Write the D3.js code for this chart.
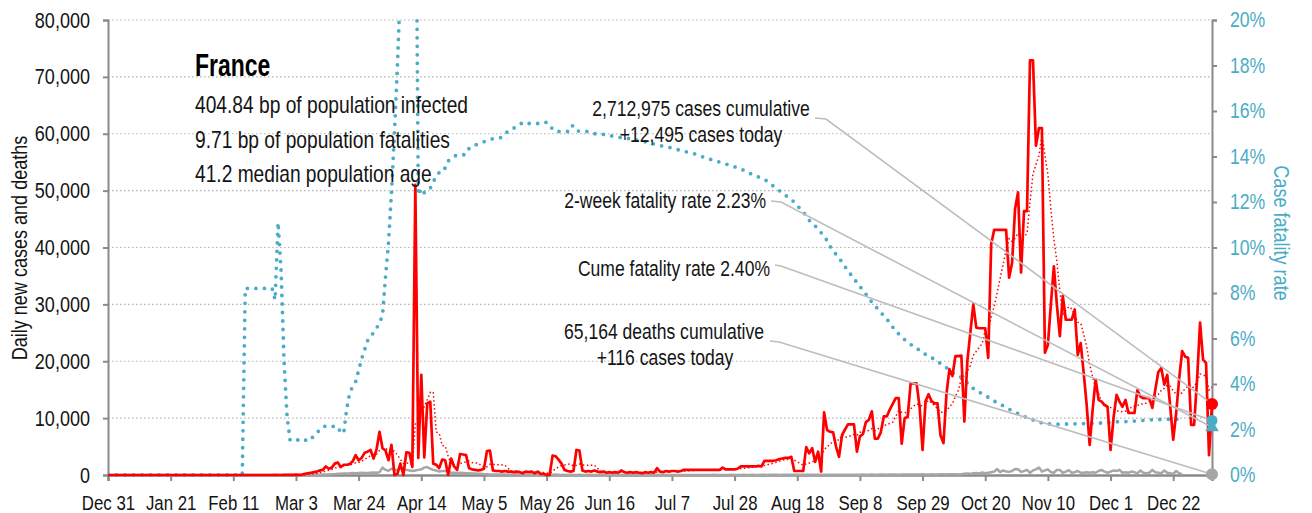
<!DOCTYPE html>
<html><head><meta charset="utf-8">
<script src="https://cdn.jsdelivr.net/npm/d3@7"></script>
<style>
html,body{margin:0;padding:0;background:#fff;}
svg{display:block;}
text{font-family:'Liberation Sans',Arial,sans-serif;}
</style></head>
<body>
<svg id="chart" width="1312" height="513"></svg>
<script>
// ---------------- DATA ----------------
const startDate = "2019-12-31";
const tickLabels = ["Dec 31","Jan 21","Feb 11","Mar 3","Mar 24","Apr 14","May 5","May 26","Jun 16","Jul 7","Jul 28","Aug 18","Sep 8","Sep 29","Oct 20","Nov 10","Dec 1","Dec 22"];
const leftTicks = [0,10000,20000,30000,40000,50000,60000,70000,80000];
const rightTicks = [0,2,4,6,8,10,12,14,16,18,20];

// daily new cases, Dec 31 2019 .. Jan 4 2021 (371 days)
const cases = [
0,0,0,0,0,0,0,0,0,0, 0,0,0,0,0,0,0,0,0,0, 0,0,0,0,0,3,0,0,1,0,
0,1,0,0,0,0,0,0,0,0, 0,0,1,0,0,0,0,0,0,0, 0,0,0,0,0,0,6,2,4,20,
19,43,30,61,21,73,200,300,400,500, 600,800,900,1500,1100,1300,2000,2200,1400,1800,
1800,1900,2400,3500,2600,3000,3900,4100,4400,2900, 4500,7600,4700,4300,2600,5300,0,200,2000,0,
4000,3900,1400,51000,3000,17600,3100,12600,12900,2000, 1800,1200,2700,2600,0,2900,1500,900,3700,3600,
3500,1200,1000,900,800,900,1100,4200,4300,800, 700,700,600,700,600,600,500,600,500,300,
600,500,600,300,600,200,200,0,0,3400, 3300,2700,2000,900,700,600,700,4400,4300,800,
600,700,600,800,600,500,600,400,500,400, 500,400,800,500,400,500,400,500,400,300,
500,400,500,400,1200,600,500,700,600,700, 700,600,700,900,900,900,900,900,900,900,
900,900,900,900,900,900,1300,1000,1000,1000, 1000,1100,1500,1500,1500,1500,1500,1500,1600,1500,
2500,2500,2500,2500,2600,2800,2900,3000,3000,3200, 700,700,700,700,4900,3800,4700,2300,4100,600,
11000,7900,7600,7500,5000,3200,7000,8000,8900,8900, 8900,4100,6800,7200,9300,9700,11200,6400,6400,7500,
10300,10300,11500,12500,13500,13500,5500,10000,10200,16100, 16100,16100,12000,4400,13000,14200,13000,12600,12600,7000,
5600,14200,18600,17400,20900,20900,21000,9400,20000,25000, 30000,25900,25800,25800,25800,20600,40600,43100,43100,43100,
43100,43100,34700,37300,46800,49700,35600,46400,46400,72900, 72900,57900,61000,61000,21500,22900,30000,36700,30000,24400,
31500,27300,27300,27300,29100,21100,23200,17900,12300,5300, 11500,16800,13200,12900,12300,12000,4400,10000,14100,12900,
12000,13200,10900,10900,10900,14900,13800,13500,13500,13500, 11800,15000,18100,18800,15900,17600,12000,6200,10900,17000,
21800,20800,20600,8800,8800,16800,26800,20300,19700,3500, 12495
];

// daily new deaths
const deaths = [
0,0,0,0,0,0,0,0,0,0, 0,0,0,0,0,0,0,0,0,0, 0,0,0,0,0,0,0,0,0,0,
0,0,0,0,0,0,0,0,0,0, 0,0,0,0,0,0,1,0,0,0, 0,0,0,0,0,0,0,1,0,0,
0,0,0,1,2,2,10,20,30,40, 50,60,80,100,90,120,150,200,230,250,
280,300,350,300,350,400,350,350,400,450, 400,500,1300,900,750,1100,900,900,1300,1000,
900,800,700,800,900,1000,1300,1400,1100,900, 800,600,700,700,600,400,400,350,400,350,
300,300,250,250,200,200,150,150,100,100, 80,90,80,70,80,60,80,70,60,50,
60,50,40,50,60,40,50,30,40,50, 80,30,20,30,20,30,10,20,30,20,
20,30,10,20,20,30,20,10,20,20, 30,20,10,20,20,10,20,30,10,20,
20,10,20,20,30,10,20,20,10,20, 20,20,10,20,20,10,20,20,10,20,
20,10,20,30,10,20,20,10,20,30, 20,10,20,30,20,10,30,20,20,30,
30,20,30,40,30,20,40,30,30,40, 40,30,40,50,40,30,50,40,40,50,
50,40,50,60,50,40,60,50,50,60, 60,50,60,70,60,50,80,60,60,80,
80,60,80,90,80,60,90,80,80,90, 90,80,100,110,90,80,120,100,100,120,
130,100,120,140,120,100,150,200,250,200, 300,350,250,450,300,400,500,600,1050,500,
800,600,550,700,1050,1000,550,700,900,400, 800,1000,1300,600,800,1000,500,400,900,900,
400,600,850,400,500,700,400,400,500,400, 500,400,700,900,600,400,600,800,700,900,
400,500,400,600,500,300,800,400,300,400, 900,500,400,300,800,400,300,200,700,300,
116
];

// case fatality rate, percent (right axis)
const cfr = [
0,0,0,0,0,0,0,0,0,0, 0,0,0,0,0,0,0,0,0,0, 0,0,0,0,0,0,0,0,0,0,
0,0,0,0,0,0,0,0,0,0, 0,0,0,0,0,0,8.2,8.2,8.2,8.2, 8.2,8.2,8.2,8.2,8.2,8.2,7.7,11.1,9.0,5.0,
2.6,1.55,1.6,1.6,1.5,1.5,1.55,1.48,1.6,1.7, 1.85,2.0,2.12,2.15,2.17,2.14,2.13,2.13,1.85,1.85,
2.9,3.6,3.9,4.1,4.6,5.1,5.5,5.9,6.1,6.25, 6.45,6.7,7.0,8.7,10.2,12.4,15.0,18.0,21.5,24,
26,27,28,30,12.3,12.6,12.4,12.5,12.6,12.9, 13.1,13.3,13.3,13.5,13.8,13.9,14.0,14.07,14.07,14.07,
14.1,14.35,14.45,14.5,14.55,14.6,14.65,14.7,14.75,14.78, 14.8,14.8,14.85,15.0,15.1,15.2,15.25,15.3,15.4,15.5,
15.45,15.45,15.45,15.45,15.45,15.45,15.5,15.5,15.4,15.2, 15.1,15.1,15.1,15.1,15.1,15.35,15.35,15.15,15.1,15.1,
15.1,15.1,15.05,15.0,15.0,15.0,14.97,14.95,14.93,14.9, 14.88,14.85,14.83,14.8,14.8,14.78,14.75,14.72,14.7,14.68,
14.65,14.6,14.57,14.55,14.52,14.48,14.45,14.42,14.4,14.37, 14.33,14.3,14.27,14.23,14.2,14.17,14.14,14.1,14.05,14.0,
13.95,13.9,13.87,13.83,13.8,13.75,13.72,13.68,13.63,13.58, 13.55,13.5,13.45,13.4,13.33,13.27,13.2,13.15,13.1,13.05,
13.0,12.9,12.8,12.7,12.6,12.5,12.4,12.3,12.2,12.1, 12.0,11.85,11.7,11.55,11.4,11.2,11.05,10.95,10.8,10.65,
10.5,10.3,10.05,9.85,9.7,9.55,9.35,9.15,9.0,8.8, 8.65,8.45,8.3,8.1,7.95,7.75,7.6,7.45,7.3,7.15,
7.0,6.85,6.7,6.5,6.35,6.2,6.05,5.95,5.86,5.75, 5.62,5.55,5.5,5.4,5.3,5.22,5.15,5.1,5.0,4.9,
4.8,4.72,4.6,4.5,4.42,4.35,4.3,4.15,4.05,3.95, 3.8,3.72,3.65,3.55,3.48,3.42,3.35,3.25,3.18,3.1,
3.05,2.98,2.9,2.82,2.77,2.7,2.64,2.58,2.52,2.48, 2.42,2.37,2.32,2.29,2.27,2.25,2.24,2.23,2.23,2.24,
2.24,2.24,2.25,2.25,2.25,2.25,2.26,2.26,2.26,2.27, 2.27,2.28,2.28,2.29,2.3,2.31,2.32,2.33,2.34,2.34,
2.34,2.35,2.35,2.36,2.37,2.38,2.39,2.4,2.41,2.42, 2.43,2.43,2.44,2.44,2.45,2.45,2.45,2.45,2.45,2.45,
2.45
];

const stats = ["404.84 bp of population infected","9.71 bp of population fatalities","41.2 median population age"];
const country = "France";
const casesNote = ["2,712,975 cases cumulative","+12,495 cases today"];
const deathsNote = ["65,164 deaths cumulative","+116 cases today"];
const twoWeekNote = "2-week fatality rate 2.23%";
const cumeNote = "Cume fatality rate 2.40%";
const twoWeekRate = 2.23, cumeRate = 2.40, casesToday = 12495, deathsToday = 116;

// ---------------- CHART ----------------
const svg = d3.select("#chart");
const L = 108, R = 1212, T = 20, B = 475;
const RED = "#ff0000", TEAL = "#4bacc6", GREY = "#a6a6a6", AXIS = "#8a8a8a", LEAD = "#bdbdbd", INK = "#141414";

const t0 = new Date(startDate + "T00:00:00Z");
const dates = cases.map((_, i) => d3.utcDay.offset(t0, i));
const x = d3.scaleUtc().domain([t0, dates[dates.length - 1]]).range([L, R]);
const yL = d3.scaleLinear().domain([0, 80000]).range([B, T]);
const yR = d3.scaleLinear().domain([0, 20]).range([B, T]);

svg.append("defs").append("clipPath").attr("id", "plot")
  .append("rect").attr("x", L).attr("y", T - 3).attr("width", R - L + 8).attr("height", B - T + 6);

// gridlines
svg.append("g").selectAll("line").data(leftTicks.slice(1)).join("line")
  .attr("x1", L).attr("x2", R).attr("y1", d => yL(d)).attr("y2", d => yL(d))
  .attr("stroke", "#b5b5b5").attr("stroke-width", 1.2).attr("stroke-dasharray", "1.6,2.4");

// left axis
const axL = svg.append("g").attr("transform", `translate(${L},0)`)
  .call(d3.axisLeft(yL).tickValues(leftTicks).tickFormat(d3.format(",")).tickSize(5).tickPadding(13));
axL.select(".domain").attr("stroke", AXIS).attr("stroke-width", 2);
axL.selectAll(".tick line").attr("stroke", AXIS).attr("stroke-width", 2);
axL.selectAll("text").attr("font-size", 22).attr("fill", INK).attr("font-family", null);

// right axis
const axR = svg.append("g").attr("transform", `translate(${R},0)`)
  .call(d3.axisRight(yR).tickValues(rightTicks).tickFormat(d => d + "%").tickSize(5).tickPadding(13));
axR.select(".domain").attr("stroke", AXIS).attr("stroke-width", 2);
axR.selectAll(".tick line").attr("stroke", AXIS).attr("stroke-width", 2);
axR.selectAll("text").attr("font-size", 21.5).attr("fill", TEAL).attr("font-family", null);

// bottom axis
const tickDates = tickLabels.map((_, i) => d3.utcDay.offset(t0, i * 21));
const axB = svg.append("g").attr("transform", `translate(0,${B})`)
  .call(d3.axisBottom(x).tickValues(tickDates).tickFormat((d, i) => tickLabels[i]).tickSize(6).tickPadding(14));
axB.select(".domain").attr("stroke", AXIS).attr("stroke-width", 2.5);
axB.selectAll(".tick line").attr("stroke", AXIS).attr("stroke-width", 2);
axB.selectAll("text").attr("font-size", 20.5).attr("fill", INK).attr("font-family", null);

// axis titles
svg.append("text").attr("transform", `translate(27,248) rotate(-90)`).attr("text-anchor", "middle")
  .attr("font-size", 22).attr("fill", INK).text("Daily new cases and deaths");
svg.append("text").attr("transform", `translate(1274,233) rotate(90)`).attr("text-anchor", "middle")
  .attr("font-size", 22).attr("fill", TEAL).text("Case fatality rate");

// series
const g = svg.append("g").attr("clip-path", "url(#plot)");
const avg7 = cases.map((_, i) => d3.mean(cases.slice(Math.max(0, i - 6), i + 1)));

g.append("path").datum(deaths)
  .attr("d", d3.line().x((d, i) => x(dates[i])).y(d => yL(d)))
  .attr("fill", "none").attr("stroke", GREY).attr("stroke-width", 2.5).attr("stroke-linejoin", "round");

g.append("path").datum(cfr)
  .attr("d", d3.line().x((d, i) => x(dates[i])).y(d => yR(d)))
  .attr("fill", "none").attr("stroke", TEAL).attr("stroke-width", 3.8)
  .attr("stroke-linecap", "round").attr("stroke-dasharray", "0,8.5");

g.append("path").datum(avg7)
  .attr("d", d3.line().x((d, i) => x(dates[i])).y(d => yL(d)))
  .attr("fill", "none").attr("stroke", RED).attr("stroke-width", 1.5).attr("stroke-dasharray", "1.5,2.5");

g.append("path").datum(cases)
  .attr("d", d3.line().x((d, i) => x(dates[i])).y(d => yL(d)))
  .attr("fill", "none").attr("stroke", RED).attr("stroke-width", 2.7).attr("stroke-linejoin", "round");

// end markers
const xe = x(dates[dates.length - 1]);
const pCases = [xe, yL(casesToday)], pDeaths = [xe, yL(deathsToday)];
const pTwo = [xe, yR(twoWeekRate) + 3], pCume = [xe, yR(cumeRate)];

// leader lines
const leaders = [
  [[815, 118], [826, 119], pCases],
  [[771, 201], [781, 202], pTwo],
  [[775, 265], [781, 266], pCume],
  [[770, 341], [779, 342], pDeaths]
];
svg.append("g").selectAll("path").data(leaders).join("path")
  .attr("d", d => d3.line()(d)).attr("fill", "none").attr("stroke", LEAD).attr("stroke-width", 1.6);

svg.append("circle").attr("cx", pCases[0]).attr("cy", pCases[1]).attr("r", 6).attr("fill", RED);
svg.append("circle").attr("cx", pDeaths[0]).attr("cy", pDeaths[1]).attr("r", 6).attr("fill", GREY);
svg.append("path").attr("d", d3.symbol(d3.symbolTriangle, 80)())
  .attr("transform", `translate(${pTwo[0]},${pTwo[1]})`).attr("fill", TEAL);
svg.append("circle").attr("cx", pCume[0]).attr("cy", pCume[1]).attr("r", 5.5).attr("fill", TEAL);

// annotations
const ann = svg.append("g").attr("font-size", 21.4).attr("fill", INK);
ann.append("text").attr("x", 701).attr("y", 116).attr("text-anchor", "middle").text(casesNote[0]);
ann.append("text").attr("x", 701).attr("y", 142).attr("text-anchor", "middle").text(casesNote[1]);
ann.append("text").attr("x", 766).attr("y", 208).attr("text-anchor", "end").text(twoWeekNote);
ann.append("text").attr("x", 770).attr("y", 276).attr("text-anchor", "end").text(cumeNote);
ann.append("text").attr("x", 664).attr("y", 339).attr("text-anchor", "middle").text(deathsNote[0]);
ann.append("text").attr("x", 665).attr("y", 365).attr("text-anchor", "middle").text(deathsNote[1]);

// title block
svg.append("text").attr("x", 195).attr("y", 76).attr("font-size", 30.6).attr("font-weight", "bold").attr("fill", "#000").text(country);
svg.append("g").selectAll("text").data(stats).join("text")
  .attr("x", 195).attr("y", (d, i) => 113 + i * 34.5).attr("font-size", 23.4).attr("fill", INK).text(d => d);

// condense all text horizontally (narrow grotesque look)
svg.selectAll("text").each(function () {
  const w = this.getComputedTextLength();
  const k = this.getAttribute("font-weight") === "bold" ? 0.75 : 0.82;
  this.setAttribute("textLength", (w * k).toFixed(1));
  this.setAttribute("lengthAdjust", "spacingAndGlyphs");
});
</script>
</body></html>
